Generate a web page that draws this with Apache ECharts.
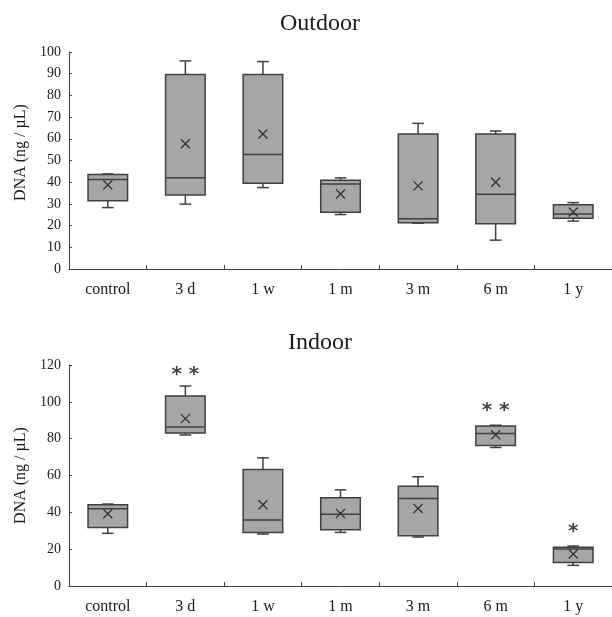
<!DOCTYPE html>
<html>
<head>
<meta charset="utf-8">
<script src="https://cdn.jsdelivr.net/npm/echarts@6/dist/echarts.min.js"></script>
<style>
  html, body { margin: 0; padding: 0; background: #fff; }
  #graph { width: 612px; height: 617px; }
</style>
</head>
<body>
<div id="graph"></div>
<script>
var categories = ['control', '3 d', '1 w', '1 m', '3 m', '6 m', '1 y'];

// [min, Q1, median, Q3, max]
var outdoorBoxes = [
  [28.3, 31.4, 41.3, 43.6, 43.8],
  [29.9, 34.1, 42.0, 89.6, 95.9],
  [37.5, 39.5, 52.8, 89.6, 95.6],
  [25.1, 26.2, 39.2, 40.9, 42.0],
  [21.1, 21.3, 23.1, 62.2, 67.1],
  [13.3, 20.8, 34.5, 62.2, 63.6],
  [22.1, 23.4, 25.3, 29.6, 30.6]
];
var outdoorMeans = [38.7, 57.7, 62.2, 34.6, 38.3, 40.0, 26.3];

var indoorBoxes = [
  [28.6, 31.8, 41.9, 44.1, 44.5],
  [82.0, 83.1, 86.4, 103.2, 108.6],
  [28.2, 29.1, 35.8, 63.3, 69.6],
  [29.1, 30.5, 39.0, 47.9, 52.2],
  [26.6, 27.3, 47.5, 54.2, 59.3],
  [75.2, 76.3, 82.8, 86.9, 87.3],
  [11.2, 12.8, 20.1, 21.1, 21.7]
];
var indoorMeans = [39.2, 90.9, 44.1, 39.4, 42.1, 82.1, 17.4];

// significance marks (indoor) and their heights
var indoorStars = ['', '* *', '', '', '', '* *', '*'];
var indoorStarY = [null, 114.8, null, null, null, 95.0, 29.2];

var outdoorTicks = [0, 100, 10];
var indoorTicks = [0, 120, 20];

var myChart = echarts.init(document.getElementById('graph'));

var font = 'Liberation Serif';
var lineCol = '#404040';

function renderBox(params, api) {
  var x = api.value(0);
  var lo = api.coord([x, api.value(1)]);
  var q1 = api.coord([x, api.value(2)]);
  var md = api.coord([x, api.value(3)]);
  var q3 = api.coord([x, api.value(4)]);
  var hi = api.coord([x, api.value(5)]);
  var band = api.size([1, 0])[0];
  var hw = band * 0.255;
  var cw = band * 0.075;
  var cx = lo[0];
  var st = { stroke: lineCol, lineWidth: 1.5 };
  return {
    type: 'group',
    children: [
      { type: 'line', shape: { x1: cx, y1: hi[1], x2: cx, y2: q3[1] }, style: st },
      { type: 'line', shape: { x1: cx - cw, y1: hi[1], x2: cx + cw, y2: hi[1] }, style: st },
      { type: 'line', shape: { x1: cx, y1: lo[1], x2: cx, y2: q1[1] }, style: st },
      { type: 'line', shape: { x1: cx - cw, y1: lo[1], x2: cx + cw, y2: lo[1] }, style: st },
      { type: 'rect', shape: { x: cx - hw, y: q3[1], width: hw * 2, height: q1[1] - q3[1] },
        style: { fill: '#a6a6a6', stroke: lineCol, lineWidth: 1.5 } },
      { type: 'line', shape: { x1: cx - hw, y1: md[1], x2: cx + hw, y2: md[1] }, style: st }
    ]
  };
}

function boxData(boxes) {
  return boxes.map(function (b, i) { return [i].concat(b); });
}

function xAxisOpt(gi) {
  return {
    type: 'category', gridIndex: gi, data: categories,
    axisLine: { lineStyle: { color: lineCol, width: 1 } },
    axisTick: { show: true, inside: true, length: 4, lineStyle: { color: lineCol } },
    axisLabel: { color: '#1a1a1a', fontFamily: font, fontSize: 16, margin: 13 }
  };
}

function yAxisOpt(gi, t, shift) {
  return {
    type: 'value', gridIndex: gi, min: t[0], max: t[1], interval: t[2],
    name: 'DNA (ng / µL)', nameLocation: 'middle', nameGap: 40, nameRotate: 90,
    nameTextStyle: { color: '#1a1a1a', fontFamily: font, fontSize: 16, padding: [0, 0, 0, shift] },
    axisLine: { show: true, lineStyle: { color: lineCol, width: 1 } },
    axisTick: { show: true, inside: true, length: 3, lineStyle: { color: lineCol } },
    axisLabel: { color: '#1a1a1a', fontFamily: font, fontSize: 14, margin: 8 },
    splitLine: { show: false }
  };
}

var xMark = 'path://M0,0L10,10M10,0L0,10';

myChart.setOption({
  backgroundColor: '#fff',
  animation: false,
  title: [
    { text: 'Outdoor', left: 315, top: 7, textAlign: 'center',
      textStyle: { fontFamily: font, fontSize: 24, fontWeight: 'normal', color: '#1a1a1a' } },
    { text: 'Indoor', left: 315, top: 326, textAlign: 'center',
      textStyle: { fontFamily: font, fontSize: 24, fontWeight: 'normal', color: '#1a1a1a' } }
  ],
  grid: [
    { left: 69, top: 52, width: 552, height: 217 },
    { left: 69, top: 365, width: 552, height: 221 }
  ],
  xAxis: [xAxisOpt(0), xAxisOpt(1)],
  yAxis: [yAxisOpt(0, outdoorTicks, 16), yAxisOpt(1, indoorTicks, 0)],
  series: [
    {
      type: 'custom', xAxisIndex: 0, yAxisIndex: 0,
      renderItem: renderBox, data: boxData(outdoorBoxes),
      encode: { x: 0, y: [1, 2, 3, 4, 5] }
    },
    {
      type: 'scatter', xAxisIndex: 0, yAxisIndex: 0,
      symbol: xMark, symbolSize: 9, z: 10,
      itemStyle: { color: 'transparent', borderColor: '#333', borderWidth: 1.3, opacity: 1 },
      data: outdoorMeans.map(function (v, i) { return [i, v]; })
    },
    {
      type: 'custom', xAxisIndex: 1, yAxisIndex: 1,
      renderItem: renderBox, data: boxData(indoorBoxes),
      encode: { x: 0, y: [1, 2, 3, 4, 5] }
    },
    {
      type: 'scatter', xAxisIndex: 1, yAxisIndex: 1,
      symbol: xMark, symbolSize: 9, z: 10,
      itemStyle: { color: 'transparent', borderColor: '#333', borderWidth: 1.3, opacity: 1 },
      data: indoorMeans.map(function (v, i) { return [i, v]; })
    },
    {
      type: 'scatter', xAxisIndex: 1, yAxisIndex: 1,
      symbolSize: 0, silent: true,
      label: {
        show: true, position: 'inside',
        formatter: function (p) { return indoorStars[p.dataIndex]; },
        fontSize: 20, fontWeight: 'bold', color: '#111', fontFamily: 'DejaVu Sans'
      },
      data: indoorStarY.map(function (v, i) { return [i, v]; })
    }
  ]
});
</script>
</body>
</html>
